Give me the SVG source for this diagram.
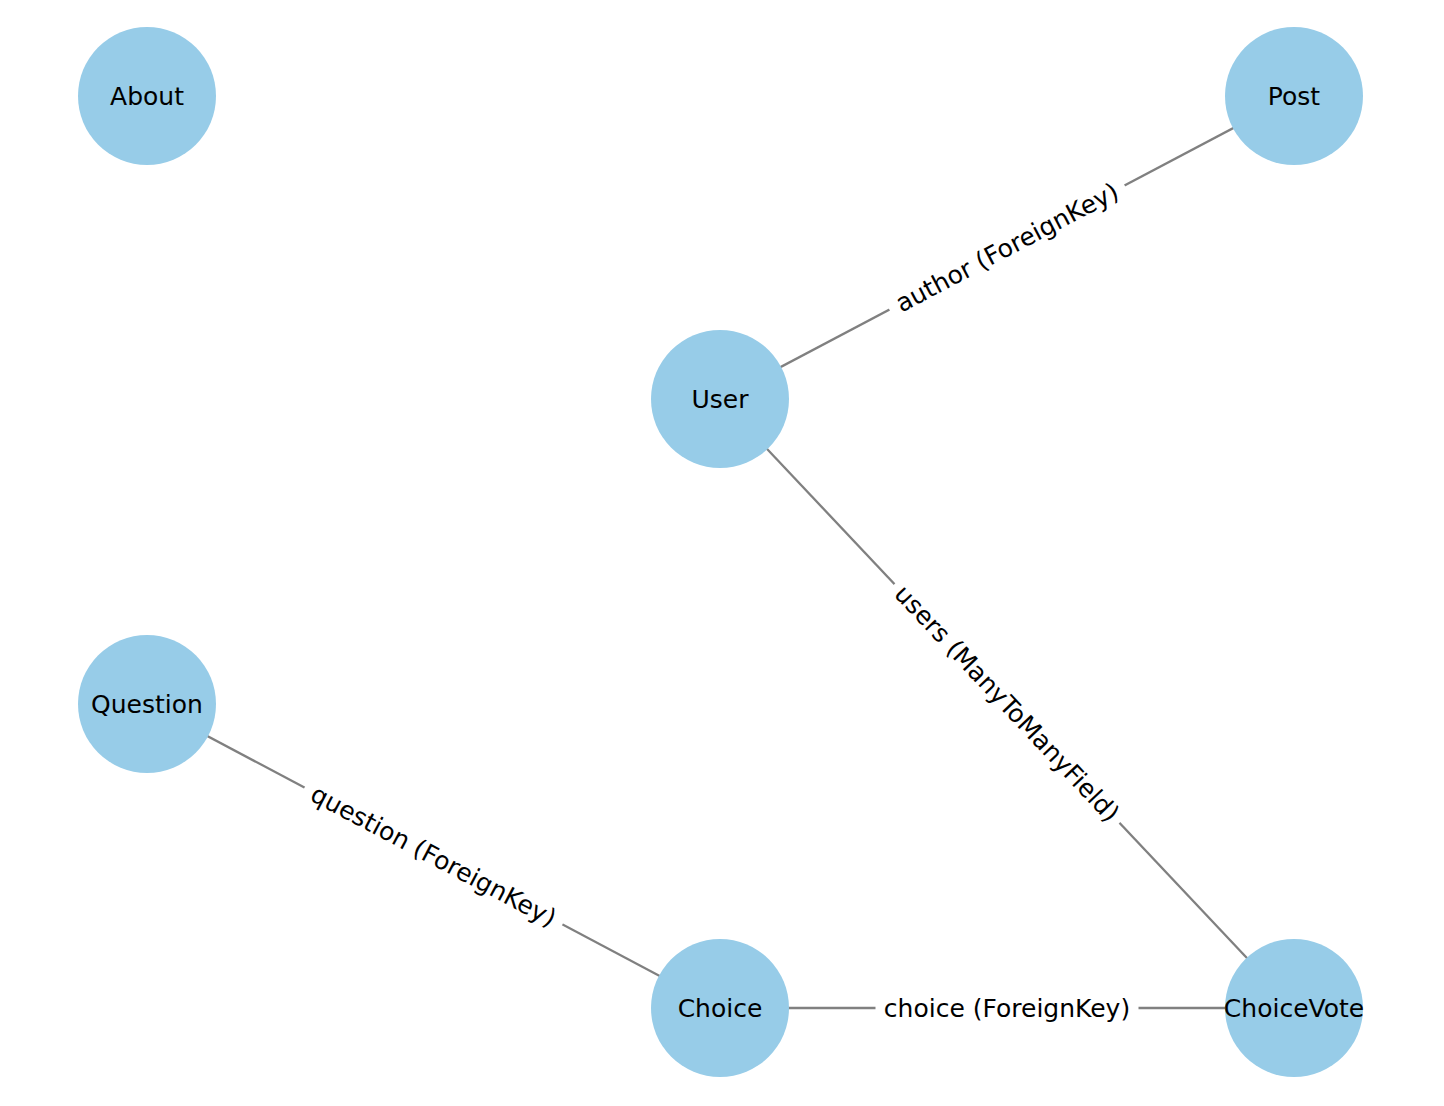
<svg xmlns="http://www.w3.org/2000/svg" width="1444" height="1106" viewBox="0 0 1444 1106">
<style>
.node circle{fill:#97CCE8;}
.node text,.elabel text{font-family:"DejaVu Sans",sans-serif;font-size:25px;fill:#000;text-anchor:middle;dominant-baseline:central;}
.edges line{stroke:#808080;stroke-width:2.3;}
.elabel rect{fill:#fff;}
</style>
<rect width="1444" height="1106" fill="#fff"/>
<g id="connectors" class="edges">
<line x1="720" y1="399" x2="1294" y2="96"/>
<line x1="720" y1="399" x2="1294" y2="1008"/>
<line x1="147" y1="704" x2="720" y2="1008"/>
<line x1="720" y1="1008" x2="1294" y2="1008"/>
</g>
<g id="edge-labels">
<g class="elabel" transform="translate(1007,247.5) rotate(-27.8)"><rect x="-133" y="-15" width="266" height="30"/><text x="0" y="0">author (ForeignKey)</text></g>
<g class="elabel" transform="translate(1007,703.5) rotate(46.7)"><rect x="-164" y="-15" width="328" height="30"/><text x="0" y="0">users (ManyToManyField)</text></g>
<g class="elabel" transform="translate(433.5,856) rotate(27.9)"><rect x="-146" y="-15" width="292" height="30"/><text x="0" y="0">question (ForeignKey)</text></g>
<g class="elabel" transform="translate(1007,1008)"><rect x="-131.5" y="-15" width="263" height="30"/><text x="0" y="0">choice (ForeignKey)</text></g>
</g>
<g id="node-About" class="node"><circle cx="147" cy="96" r="69"/><text x="147" y="96">About</text></g>
<g id="node-Post" class="node"><circle cx="1294" cy="96" r="69"/><text x="1294" y="96">Post</text></g>
<g id="node-User" class="node"><circle cx="720" cy="399" r="69"/><text x="720" y="399">User</text></g>
<g id="node-Question" class="node"><circle cx="147" cy="704" r="69"/><text x="147" y="704">Question</text></g>
<g id="node-Choice" class="node"><circle cx="720" cy="1008" r="69"/><text x="720" y="1008">Choice</text></g>
<g id="node-ChoiceVote" class="node"><circle cx="1294" cy="1008" r="69"/><text x="1294" y="1008">ChoiceVote</text></g>
</svg>
